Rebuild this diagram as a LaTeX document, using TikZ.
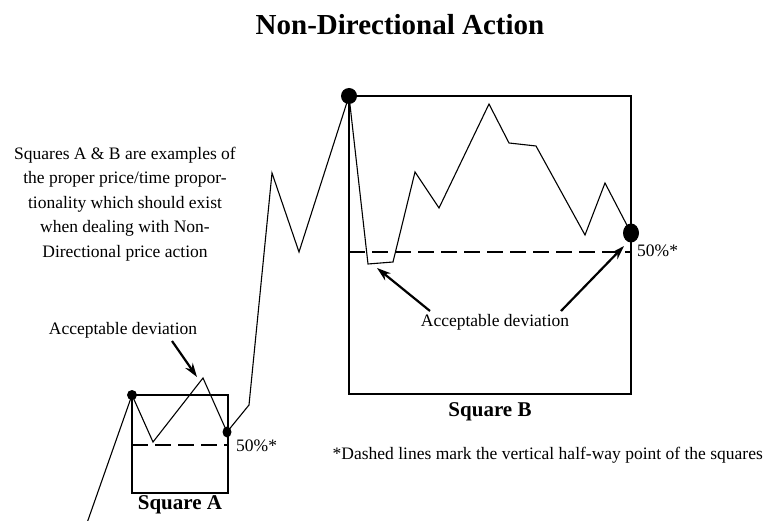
\documentclass[tikz,border=0pt]{standalone}
\usepackage{fontspec}
\setmainfont{Liberation Serif}
\usetikzlibrary{arrows.meta,positioning}

\begin{document}
\begin{tikzpicture}[
  x=1pt,y=-1pt,
  sq/.style={draw,line width=2.6pt},
  half/.style={line width=1.8pt,dash pattern=on 16pt off 7pt},
  price/.style={line width=1.1pt,line join=miter},
  arr/.style={-{Stealth[length=14pt,width=9pt]},line width=2.2pt},
  txt/.style={font=\fontsize{17.5}{24.5}\selectfont,inner sep=0pt},
  lbl/.style={font=\fontsize{21}{24}\selectfont\bfseries,inner sep=0pt}
]
\useasboundingbox (0,0) rectangle (763,521);
\node[font=\fontsize{29}{32}\selectfont\bfseries,inner sep=0pt] (title) at (400,25) {Non-Directional Action};

% squares and half-way lines
\coordinate (aTL) at (132,395);
\coordinate (aBR) at (228,493);
\coordinate (bTL) at (349,96);
\coordinate (bBR) at (631,394);
\draw[sq] (aTL) rectangle (aBR);
\draw[sq] (bTL) rectangle (bBR);
\draw[half] (132,445) -- (228,445);
\draw[half] (349,252) -- (631,252);

% price line
\coordinate (aEnd) at (227,432);
\coordinate (bEnd) at (631,233);
\draw[price] (87,523) -- (aTL) -- (153,442) -- (203,378) -- (aEnd) -- (249,405)
  -- (272,173) -- (299,252) -- (bTL) -- (368,264) -- (393,262) -- (415,172)
  -- (439,208) -- (489,104) -- (509,143) -- (536,146) -- (585,235) -- (605,183)
  -- (bEnd);
\fill (aTL) circle (5pt);
\fill (aEnd) ellipse (4.5pt and 5.5pt);
\fill (bTL) circle (8pt);
\fill (bEnd) ellipse (8pt and 9.5pt);

% texts
\node[txt,align=center] (note) at (125,204) {Squares A \& B are examples of\\the proper price/time propor-\\tionality which should exist\\when dealing with Non-\\Directional price action};
\node[txt] (devA) at (123,330) {Acceptable deviation};
\node[txt] (devB) at (495,322) {Acceptable deviation};
\node[txt,anchor=west] (pctA) at (236,446) {50\%*};
\node[txt,anchor=west] (pctB) at (637,251) {50\%*};
\node[lbl] (sqA) at (180,505) {Square A};
\node[lbl] (sqB) at (490,412) {Square B};
\node[txt,anchor=east] (foot) at (763,455) {*Dashed lines mark the vertical half-way point of the squares};

% arrows
\coordinate (tailA) at (172,341);
\coordinate (tipA) at (197,377);
\coordinate (tailB1) at (430,311);
\coordinate (tipB1) at (377,268);
\coordinate (tailB2) at (561,311);
\coordinate (tipB2) at (624,246);
\draw[arr] (tailA) -- (tipA);
\draw[arr] (tailB1) -- (tipB1);
\draw[arr] (tailB2) -- (tipB2);
\end{tikzpicture}
\end{document}
